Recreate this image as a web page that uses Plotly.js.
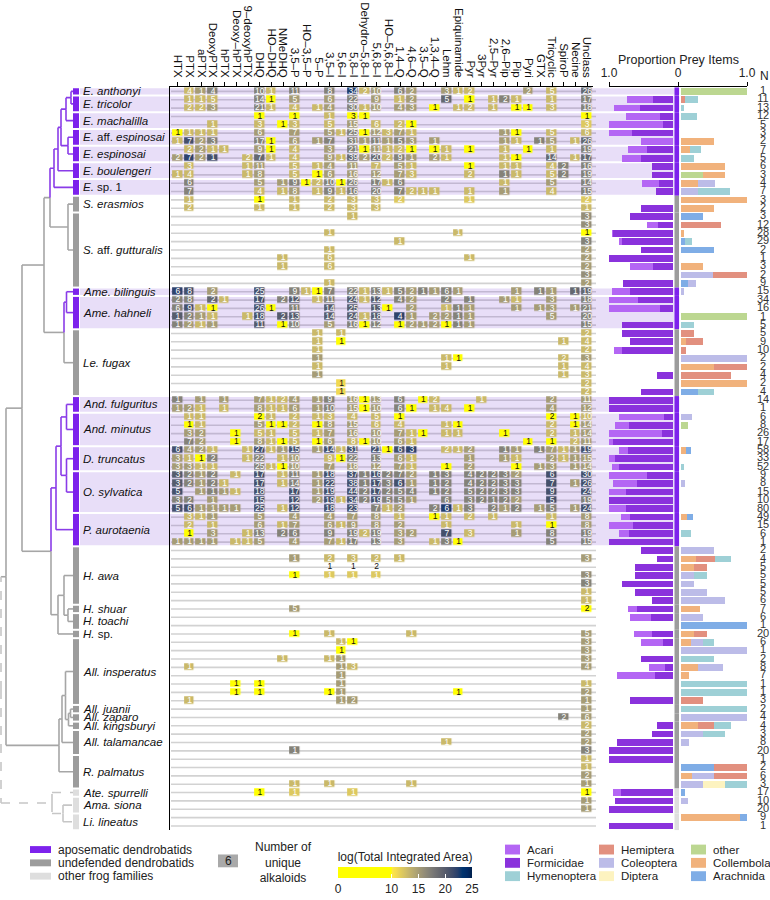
<!DOCTYPE html>
<html><head><meta charset="utf-8">
<script src="https://cdn.plot.ly/plotly-3.0.1.min.js"></script>
<style>body{margin:0;background:#fff}#chart{width:770px;height:900px}</style>
</head><body><div id="chart"></div>
<script>
// ---------------- DATA ----------------
const alkaloidClasses = ["HTX","PTX","aPTX","DeoxyPTX","hPTX","Deoxy–hPTX","9–deoxyhPTX","DHQ","HO–DHQ","NMeDHQ","3,5–P","HO–3,5–P","5–P","3,5–I","5,6–I","5,8–I","Dehydro–5,8–I","5,6,8–I","HO–5,6,8–I","1,4–Q","4,6–Q","3,5–Q","1,3,4–Q","Lehm","Epiquinamide","Pyr","3Pyr","2,5–Pyr","2,6–Pip","Pip","Pyri","GTX","Tricyclic","SpiroP","Necine","Unclass"];

const speciesNames = ["<i>E. anthonyi</i>","<i>E. tricolor</i>","<i>E. machalilla</i>","<i>E.</i> aff. <i>espinosai</i>","<i>E. espinosai</i>","<i>E. boulengeri</i>","<i>E.</i> sp. 1","<i>S. erasmios</i>","<i>S.</i> aff. <i>gutturalis</i>","<i>Ame. bilinguis</i>","<i>Ame. hahneli</i>","<i>Le. fugax</i>","<i>And. fulguritus</i>","<i>And. minutus</i>","<i>D. truncatus</i>","<i>O. sylvatica</i>","<i>P. aurotaenia</i>","<i>H. awa</i>","<i>H. shuar</i>","<i>H. toachi</i>","<i>H.</i> sp.","<i>All. insperatus</i>","<i>All. juanii</i>","<i>All. zaparo</i>","<i>All. kingsburyi</i>","<i>All. talamancae</i>","<i>R. palmatus</i>","<i>Ate. spurrelli</i>","<i>Ama. siona</i>","<i>Li. lineatus</i>"];
const speciesKeys = ["E. anthonyi","E. tricolor","E. machalilla","E. aff. espinosai","E. espinosai","E. boulengeri","E. sp. 1","S. erasmios","S. aff. gutturalis","Ame. bilinguis","Ame. hahneli","Le. fugax","And. fulguritus","And. minutus","D. truncatus","O. sylvatica","P. aurotaenia","H. awa","H. shuar","H. toachi","H. sp.","All. insperatus","All. juanii","All. zaparo","All. kingsburyi","All. talamancae","R. palmatus","Ate. spurrelli","Ama. siona","Li. lineatus"];
const speciesType = ["apo","apo","apo","apo","apo","apo","apo","und","und","apo","apo","und","apo","apo","apo","apo","apo","und","und","und","und","und","und","und","und","und","und","oth","oth","oth"];
const speciesRowCount = [1,2,2,2,2,2,2,2,9,1,4,8,2,4,3,5,4,7,1,2,1,8,1,1,1,3,4,1,2,2];

// number of prey items per individual (N column)
const preyN = [1,11,13,12,5,3,2,7,5,6, 3,4,7,3,2,3,12,28,29,2, 1,3,2,9,15,34,16,1,5,5, 9,10,2,2,4,2,4,14,1,6,
 8,26,17,58,33,52,9,8,15,10, 80,49,15,6,1,2,4,5,5,5, 5,6,7,6,1,20,6,1,2,8, 7,1,1,3,2,4,4,3,8,20, 1,2,6,3,17,10,20,9,1];

// alkaloid cells per individual: "class#:uniqueAlkaloids:logTotalArea"  ("x" = area not shown)
const alkaloidCells = [
"2:4:13 3:1:15 4:4:17 8:10:17 9:1:13 11:11:17 14:8:17 16:34:22.5 17:2:13 18:10:15 20:6:17 21:2:15 24:3:15 25:1:13 26:2:13 31:2:15 33:5:13 36:26:19",
"2:1:13 3:1:13 4:5:13 8:14:17 9:1:6 11:5:15 14:6:15 16:22:17 18:9:15 20:1:13 21:2:15 24:5:19 26:1:6 28:1:13 29:2:17 30:1:13 33:1:13 36:17:17",
"2:2:13 3:2:13 4:3:15 8:21:17 9:1:13 11:4:13 13:1:13 14:4:15 16:30:17 17:1:13 18:10:15 20:4:15 21:3:15 23:1:6 25:1:13 26:2:13 28:1:13 30:1:6 31:1:6 33:3:13 36:18:17",
"8:1:6 11:1:6 14:1:13 16:3:6 17:1:6 36:1:6",
"4:1:13 8:3:13 10:1:6 11:3:13 14:5:13 16:15:15 18:6:13 20:2:13 21:1:6 36:3:12",
"1:1:6 2:1:13 3:1:13 4:1:13 8:6:15 11:7:15 14:5:15 15:1:13 16:25:17 17:1:6 18:12:15 19:3:13 20:7:15 21:1:13 29:1:15 30:1:6 33:5:13 36:6:13",
"1:1:13 2:7:21 3:2:15 4:3:17 8:17:17 9:1:6 11:6:15 13:1:15 14:7:17 16:31:17 17:1:15 18:11:17 19:1:15 20:5:17 21:3:15 23:1:15 29:1:15 30:1:13 32:1:17 33:5:15 35:1:13 36:26:19",
"2:2:13 3:2:15 4:1:13 5:1:13 8:9:15 9:1:6 11:4:13 14:3:15 16:21:17 17:1:6 18:11:15 19:1:13 20:2:13 21:1:6 23:1:6 24:1:13 26:1:6 29:1:13 31:1:6 33:1:13 36:19:17",
"1:2:15 2:7:22 3:2:15 4:1:21 7:2:13 8:7:19 9:1:13 11:4:13 14:9:15 15:1:13 16:39:19 17:2:15 18:20:19 19:2:13 20:9:17 21:1:15 23:2:15 24:1:13 29:1:13 30:1:6 33:14:19 35:1:13 36:17:19",
"2:3:13 7:1:13 8:11:15 11:5:13 13:1:13 14:4:15 16:11:15 18:7:13 20:5:15 21:1:13 26:1:6 29:1:13 30:1:13 33:4:13 34:2:17 36:16:17",
"1:1:13 2:4:13 7:1:13 8:8:15 11:5:13 13:1:6 14:6:15 16:16:15 18:12:15 20:7:15 21:3:13 26:2:13 29:1:17 30:1:13 33:5:13 34:2:17 36:19:17",
"2:6:17 8:5:15 10:1:15 11:9:17 12:1:6 13:2:13 14:10:17 15:1:6 16:26:17 18:17:17 19:1:13 20:6:17 29:1:13 33:5:15 36:14:17",
"2:7:17 8:4:13 10:1:13 11:8:15 13:1:13 14:9:17 15:1:13 16:16:17 18:20:17 20:7:17 21:2:13 22:1:13 23:1:13 26:1:13 29:1:15 33:4:13 36:15:17",
"2:1:13 8:1:6 11:1:13 14:2:13 16:3:13 18:3:13 20:2:12 26:1:12 36:2:12",
"2:2:13 8:1:13 11:1:13 14:2:13 16:3:13 18:3:13 36:1:13",
"16:1:13 36:3:16",
"36:3:16",
"14:1:13 25:1:13 36:1:6",
"20:1:13 36:3:17",
"14:1:13 36:2:15",
"10:1:13 14:6:13 26:1:13 36:2:15",
"10:1:13 14:6:13 36:2:15",
"36:3:16",
"14:1:13 36:2:15",
"1:6:22 2:8:21 4:2:15 8:25:21 11:9:17 12:1:13 13:1:6 14:7:17 16:22:17 17:1:13 18:13:17 19:1:13 20:5:17 21:2:15 22:1:17 23:1:15 24:6:17 25:1:15 30:1:15 32:1:17 33:1:15 35:1:19 36:19:19",
"1:2:17 2:8:17 4:2:19 5:1:13 8:17:21 10:2:17 11:12:20 13:1:13 14:11:17 16:24:20 17:1:13 18:12:20 20:4:17 21:2:15 24:2:17 26:1:17 29:1:15 30:1:13 33:3:15 36:18:17",
"1:6:17 2:9:21 3:1:13 4:1:6 8:26:21 9:1:6 11:11:17 14:14:20 16:25:20 18:13:20 19:1:6 21:2:15 24:1:13 25:1:17 26:1:15 30:1:15 32:1:15 33:3:15 35:1:15 36:21:17",
"1:1:20 2:2:17 3:1:15 4:1:13 7:1:13 8:18:21 10:2:20 11:13:20 14:14:20 16:24:20 17:1:13 18:18:20 20:4:22 21:1:15 23:2:15 24:2:15 25:1:17 26:1:15 33:5:15 36:20:17",
"1:1:17 2:2:15 3:1:13 4:1:15 8:11:20 10:1:6 11:10:17 14:5:15 16:16:17 17:1:6 18:12:17 20:1:6 21:2:15 22:1:15 23:2:15 24:1:6 25:1:17 26:1:15 36:15:17",
"13:1:13 15:1:13 36:2:13",
"13:1:13 15:1:6 34:1:13 36:4:13",
"13:1:13 36:2:13",
"13:1:15 24:1:13 25:1:6 34:2:13 36:3:15",
"13:1:13 24:1:13 34:1:13 36:4:13",
"13:1:15 34:1:13 36:3:13",
"15:1:11 36:2:13",
"15:1:11 36:2:13",
"1:1:17 3:1:15 5:1:15 8:7:15 9:1:13 10:2:13 11:4:15 13:1:15 14:9:17 16:16:15 17:1:6 18:13:15 20:6:17 22:1:6 23:2:13 27:1:13 33:2:15 36:11:15",
"1:1:15 2:2:15 3:1:13 5:1:13 8:8:15 9:1:13 10:1:13 11:6:15 13:1:15 14:10:17 16:15:15 17:1:6 18:10:15 20:6:17 21:1:6 23:1:13 24:4:13 26:1:6 33:4:15 36:12:15",
"2:1:13 3:1:13 8:2:6 9:1:13 11:2:13 13:1:13 14:3:13 16:4:13 18:5:13 20:1:6 33:2:6 35:1:6 36:10:13",
"2:1:6 3:1:13 8:5:15 9:1:6 10:1:6 11:2:13 13:1:6 14:8:15 16:15:15 18:6:13 20:4:13 24:1:13 25:1:6 33:2:13 35:1:6 36:14:15",
"2:3:15 3:2:15 6:1:6 8:5:13 9:1:13 11:5:13 13:1:13 14:7:15 16:16:15 18:10:15 20:7:15 21:1:13 22:1:6 24:1:13 25:1:13 29:1:6 33:2:13 35:1:13 36:14:15",
"2:7:17 3:2:15 6:1:6 8:8:15 9:1:13 10:1:6 11:5:13 13:1:6 14:6:15 16:8:13 17:1:6 18:10:15 20:6:15 21:1:13 31:1:6 33:1:6 35:2:13 36:11:15",
"1:6:21 2:4:15 3:2:15 4:1:13 7:1:13 8:27:21 9:1:13 10:1:15 11:15:21 13:1:15 14:14:21 15:1:13 16:31:21 18:21:21 19:1:6 20:6:21 21:3:22 24:2:13 25:1:13 26:2:15 29:1:17 30:1:15 32:1:17 33:7:15 34:1:13 35:1:15 36:19:21",
"1:3:15 2:1:13 3:1:6 4:2:17 7:1:13 8:22:17 10:1:13 11:10:15 14:9:13 15:1:6 16:22:17 18:13:17 20:6:15 21:1:13 26:1:15 29:1:15 30:1:13 33:2:15 34:1:13 35:1:15 36:15:15",
"1:3:15 2:3:15 3:1:13 4:1:13 8:25:17 9:1:13 10:1:6 11:10:15 14:7:15 16:18:15 18:12:15 20:7:15 21:1:13 24:1:6 26:2:15 30:1:6 32:1:15 33:3:15 35:1:15 36:14:15",
"1:3:20 2:2:17 3:1:15 4:2:17 6:1:13 8:17:21 10:1:13 11:11:17 13:1:15 14:18:21 16:37:21 17:1:17 18:16:21 19:2:17 20:7:17 21:2:15 23:1:17 24:3:17 26:4:17 27:2:17 28:2:17 29:3:17 30:2:15 33:6:21 36:30:21",
"1:3:20 2:2:17 3:1:15 4:2:17 5:1:13 8:17:21 10:1:13 11:14:17 13:1:15 14:22:21 16:38:21 17:1:17 18:17:21 19:3:17 20:6:21 21:1:15 23:1:17 24:2:17 26:4:17 27:2:17 28:2:17 29:3:17 30:3:17 33:7:21 35:1:15 36:26:21",
"1:5:21 3:1:15 4:1:17 5:1:15 6:1:13 8:18:21 11:17:21 13:1:15 14:19:21 16:44:21 17:2:17 18:17:21 19:2:17 20:5:17 21:4:17 23:1:17 24:2:17 26:5:17 27:2:17 28:2:17 29:3:17 30:3:17 33:9:21 36:24:21",
"1:3:17 2:2:17 4:1:15 8:15:21 11:12:21 13:2:15 14:19:21 15:1:13 16:34:21 17:2:17 18:19:21 19:5:17 20:5:17 21:1:15 24:6:17 26:3:17 27:2:17 28:1:17 29:2:17 30:2:15 33:5:21 36:19:17",
"1:5:21 2:6:21 3:1:15 4:1:15 5:1:15 6:1:15 8:25:21 10:1:13 11:12:21 14:18:21 16:23:21 18:7:17 19:1:13 20:2:15 23:2:17 24:6:22.5 25:1:13 26:3:17 28:2:17 29:1:15 30:2:17 32:1:15 33:5:17 35:1:15 36:24:21",
"2:3:13 3:1:13 4:1:15 8:5:15 11:4:15 14:4:15 16:7:15 18:8:15 20:1:13 23:1:6 24:1:13 26:2:13 28:1:13 33:1:13 36:8:15",
"2:2:13 4:1:13 8:6:15 10:1:13 11:7:15 14:6:15 15:1:13 16:9:15 18:8:15 20:2:15 24:1:13 30:1:13 33:1:6 36:8:15",
"2:1:6 4:3:15 7:1:13 8:13:17 10:2:17 11:6:17 14:9:17 16:19:17 17:2:13 18:19:17 20:3:15 21:2:15 24:7:21 26:3:13 30:1:15 33:8:17 36:19:17",
"1:1:15 2:1:15 3:1:15 4:1:15 6:1:13 7:1:13 8:5:15 11:4:15 14:7:15 15:1:13 16:17:17 18:13:17 20:3:15 23:1:13 24:3:17 25:1:6 33:5:17 36:15:17",
"",
"11:1:15 14:2:13 16:3:13 18:2:13 20:1:13 36:3:15",
"14:1:x 16:1:x 18:2:x",
"11:1:6 14:1:12 16:1:12 18:1:12 36:3:16",
"36:3:17",
"36:1:13",
"36:1:13",
"11:5:15 36:2:6",
"",
"",
"11:1:6 14:1:13 21:1:13 36:5:15",
"15:1:13 16:1:6 36:3:15",
"15:1:6 36:3:15",
"10:1:13 14:1:13 15:1:15 36:3:15",
"2:1:13 15:1:15 16:3:13 36:4:15",
"15:1:15",
"6:1:6 8:1:6 15:1:15 36:1:13",
"6:1:6 8:1:6 14:1:6 15:1:15 25:1:6 36:2:15",
"2:1:13 15:1:15 16:2:15 36:1:15",
"36:1:15",
"34:2:17 36:6:15",
"36:2:13",
"36:2:15",
"24:1:13 36:2:15",
"11:1:17 36:3:17",
"36:1:13",
"36:1:13",
"36:2:15",
"11:1:13 14:1:13 21:1:13 36:1:15",
"8:1:6 11:1:12 16:1:12 36:1:6",
"36:1:15",
"36:1:15",
"",
""
];

// diet proportions per individual: F=Formicidae A=Acari Ot=other Cl=Collembola Ar=Arachnida Co=Coleoptera Di=Diptera He=Hemiptera Hy=Hymenoptera
const dietRows = [
"Ot1","F.32 A.40 He.06 Hy.20","F.52 A.40 Hy.05","F.21 A.53 Hy.24","F.15 A.85","F.64 A.36","A.50 Cl.50","F.40 A.30 Cl.13 Hy.17","F.50 A.30 Hy.20","F.33 Cl.67",
"F.33 Ot.33 Cl.34","F.22 A.27 Cl.25 Co.26","F.26 Co.25 Hy.49","Cl1","F.5 Cl.5","F.67 Ar.33","F.23 A.17 He.60","F.93 A.03 Cl.04","F.80 A.04 Ar.06 Hy.10","F.5 Ar.5",
"F1","F.32 A.35 Cl.33","Co.48 He.52","F.78 Ar.11 Co.11","F.67 A.28 Co.05","F.55 A.45","F.2 A.8","Ot1","F.8 Hy.2","F.8 He.2",
"F.67 Cl.08 He.25","F.8 A.12 He.08","Co1","Cl.5 He.5","F.25 He.75","Cl1","F.5 Ar.25 Hy.25","F1","F1","F.14 A.7 Co.16",
"F.68 A.22 Ot.1","F.17 A.83","F.94 A.06","F.7 A.15 Cl.07 Ar.08","F.91 A.09","F.85 A.11 Hy.04","F.41 A.59","F.56 A.38 Co.06","F.73 A.27","F1",
"F.73 A.27","F.67 A.15 Cl.09 Ar.09","F.62 A.38","F.68 A.17 Hy.15","F1","F.5 Co.5","F.25 Cl.22 He.3 Hy.23","F.6 Cl.2 He.2","F.6 Co.2 Hy.2","F.8 Co.2",
"F.6 Co.4","F.33 Co.67","F.57 A.14 Cl.29","F.34 A.33 Co.33","Ar1","F.33 A.28 Cl.19 He.2","F.15 A.35 Cl.15 Co.18 Hy.17","Co1","F.5 Hy.5","F.12 A.25 Cl.25 Co.38",
"F.28 A.6 Cl.12","Hy1","Hy1","F.67 He.33","Hy1","Co1","F.25 Cl.25 He.25 Hy.25","F.33 Co.33 Hy.34","F.875 Co.125","F1",
"F1","Ar.5 He.5","Cl.17 Co.33 He.5","Co.33 Di.33 Hy.34","F.82 A.12 Ar.06","F.9 Co.1","F1","Cl.89 Ar.11","F1"
];

const dietLeftCodes = ["F","A"];                       // stacked leftwards from 0
const dietRightCodes = ["Ot","Cl","Ar","Co","Di","He","Hy"]; // stacked rightwards from 0
const dietNames = {F:"Formicidae",A:"Acari",Ot:"other",Cl:"Collembola",Ar:"Arachnida",Co:"Coleoptera",Di:"Diptera",He:"Hemiptera",Hy:"Hymenoptera"};
const dietColors = {F:"#8a32dc",A:"#b466f4",Ot:"#bcd791",Cl:"#f1b27c",Ar:"#7fade6",Co:"#bcbce8",Di:"#fdf3c0",He:"#e2907f",Hy:"#9ed0d6"};
const dietLegendColumns = [["A","F","Hy"],["He","Co","Di"],["Ot","Cl","Ar"]];

const groupColors = {apo:"#7d22ec", und:"#9c9c9c", oth:"#dedede"};
const treeColors = {apo:"#8a3ce8", und:"#a6a6a6", oth:"#c6c6c6"};
const groupLegend = [["apo","aposematic dendrobatids"],["und","undefended dendrobatids"],["oth","other frog families"]];

// cladogram: [node, childA, childB, node depth (px from left)]
const treeNodes = [
 ["n1","E. anthonyi","E. tricolor",71],
 ["n2","n1","E. machalilla",66],
 ["n3","E. aff. espinosai","E. espinosai",68],
 ["n4","n2","n3",61],
 ["n5","n4","E. boulengeri",58],
 ["n6","n5","E. sp. 1",54],
 ["n7","S. erasmios","S. aff. gutturalis",68],
 ["n8","n6","n7",50],
 ["n9","Ame. bilinguis","Ame. hahneli",66.5],
 ["n10","n9","Le. fugax",64],
 ["n11","n8","n10",44],
 ["n12","And. fulguritus","And. minutus",66.5],
 ["n13","D. truncatus","O. sylvatica",66.5],
 ["n14","n12","n13",61],
 ["n15","n14","P. aurotaenia",56],
 ["n16","H. shuar","H. toachi",68],
 ["n17","H. awa","n16",64],
 ["n18","n17","H. sp.",58],
 ["n19","n15","n18",51],
 ["n20","n11","n19",22],
 ["n21","All. juanii","All. zaparo",70.5],
 ["n22","n21","All. kingsburyi",68.5],
 ["n23","All. insperatus","n22",65.5],
 ["n24","n23","All. talamancae",62],
 ["n25","n24","R. palmatus",59],
 ["n26","n20","n25",6],
 ["n27","Ama. siona","Li. lineatus",63],
 ["n28","Ate. spurrelli","n27",52],
 ["n29","n26","n28",1]
];

// ---------------- BUILD ----------------
const W = 770, H = 900;
const px = x => x / W, py = y => 1 - y / H;
const FONT = "'Liberation Sans',Arial,sans-serif";
const nRows = preyN.length, nCols = alkaloidClasses.length;
const rowIdx = Array.from({length:nRows}, (_,i)=>i+1);

const rowStart = []; let acc = 1;
speciesRowCount.forEach(c => { rowStart.push(acc); acc += c; });
const spCenter = speciesRowCount.map((c,i) => rowStart[i] + (c-1)/2);
const rowType = [];
speciesRowCount.forEach((c,i) => { for (let k=0;k<c;k++) rowType.push(speciesType[i]); });

const z = [], tX = [], tY = [], tT = [], tC = [];
alkaloidCells.forEach((s,i) => {
  const row = new Array(nCols).fill(null);
  s.split(/\s+/).filter(Boolean).forEach(tok => {
    const [c,n,a] = tok.split(":");
    if (a !== "x") row[+c-1] = +a;
    tX.push(+c); tY.push(i+1); tT.push(n);
    tC.push(a === "x" || +a <= 11.5 ? "#111" : "#fff");
  });
  z.push(row);
});

const cividis = [[0,'rgb(0,32,76)'],[0.058824,'rgb(0,42,102)'],[0.117647,'rgb(0,52,110)'],[0.176471,'rgb(39,63,108)'],[0.235294,'rgb(60,74,107)'],[0.294118,'rgb(76,85,107)'],[0.352941,'rgb(91,95,109)'],[0.411765,'rgb(104,106,112)'],[0.470588,'rgb(117,117,117)'],[0.529412,'rgb(131,129,120)'],[0.588235,'rgb(146,140,120)'],[0.647059,'rgb(161,152,118)'],[0.705882,'rgb(176,165,114)'],[0.764706,'rgb(192,177,109)'],[0.823529,'rgb(209,191,102)'],[0.882353,'rgb(225,204,92)'],[0.941176,'rgb(243,219,79)'],[1,'rgb(255,233,69)']];
const cs = [[0,'#ffff00'],[0.399,'#ffff00']];
cividis.slice().reverse().forEach(([p,c]) => cs.push([0.4 + 0.6*(1-p), c]));

const diet = {};
Object.keys(dietNames).forEach(k => diet[k] = new Array(nRows).fill(0));
dietRows.forEach((s,i) => s.split(/\s+/).filter(Boolean).forEach(tok => {
  const m = tok.match(/^([A-Za-z]+)([\d.]+)$/); diet[m[1]][i] = +m[2];
}));

const traces = [];
traces.push({type:'heatmap', x: Array.from({length:nCols},(_,i)=>i+1), y: rowIdx, z: z,
  xaxis:'x', yaxis:'y', zmin:0, zmax:25, colorscale: cs, xgap:1.6, ygap:1.4, hoverongaps:false,
  colorbar:{orientation:'h', x:px(338), xanchor:'left', y:py(865), yanchor:'top', len:134, lenmode:'pixels',
    thickness:11, thicknessmode:'pixels', outlinewidth:0, xpad:0, ypad:0,
    tickvals:[0,10,15,20,25], ticks:'inside', ticklen:4, tickcolor:'#ffffff', tickwidth:1,
    tickfont:{family:FONT, size:12, color:'#222'},
    title:{text:'log(Total Integrated Area)', side:'top', font:{family:FONT, size:12, color:'#222'}}}});
traces.push({type:'scatter', mode:'text', x:tX, y:tY, text:tT, xaxis:'x', yaxis:'y',
  textfont:{family:FONT, size:8.5, color:tC}, hoverinfo:'skip', showlegend:false, cliponaxis:false});

dietLeftCodes.forEach(k => traces.push({type:'bar', orientation:'h', y:rowIdx, x:diet[k], xaxis:'x2', yaxis:'y',
  name:dietNames[k], marker:{color:dietColors[k], line:{width:0}}, width:0.8, showlegend:false}));
dietRightCodes.forEach(k => traces.push({type:'bar', orientation:'h', y:rowIdx, x:diet[k], xaxis:'x3', yaxis:'y',
  name:dietNames[k], marker:{color:dietColors[k], line:{width:0}}, width:0.8, showlegend:false}));

// N column
traces.push({type:'scatter', mode:'text', x:rowIdx.map(()=>0.5), y:rowIdx, text:preyN.map(String),
  xaxis:'x6', yaxis:'y', textfont:{family:FONT, size:11, color:'#333'}, cliponaxis:false, hoverinfo:'skip', showlegend:false});

// top axis for proportions
traces.push({type:'scatter', mode:'markers', x:[-1,1], y:[1,1], xaxis:'x5', yaxis:'y', marker:{opacity:0}, hoverinfo:'skip', showlegend:false});

// tree
const nodeY = {}, nodeX = {}, nodeT = {};
speciesKeys.forEach((k,i) => { nodeY[k] = spCenter[i]; nodeX[k] = 73; nodeT[k] = speciesType[i]; });
const seg = {apo:{x:[],y:[]}, und:{x:[],y:[]}, oth:{x:[],y:[]}};
const addSeg = (t,x0,y0,x1,y1) => { seg[t].x.push(x0,x1,null); seg[t].y.push(y0,y1,null); };
treeNodes.forEach(([id,a,b,x]) => {
  nodeX[id] = x; nodeY[id] = (nodeY[a] + nodeY[b]) / 2;
  const ta = nodeT[a], tb = nodeT[b];
  const mixedOth = (ta !== tb) && (ta === 'oth' || tb === 'oth');
  nodeT[id] = (ta === tb) ? ta : (mixedOth ? 'oth' : 'und');
  addSeg(mixedOth ? 'oth' : ta, x, nodeY[id], x, nodeY[a]);
  addSeg(mixedOth ? 'oth' : tb, x, nodeY[id], x, nodeY[b]);
  addSeg(ta, x, nodeY[a], nodeX[a], nodeY[a]);
  addSeg(tb, x, nodeY[b], nodeX[b], nodeY[b]);
});
['und','apo','oth'].forEach(t => traces.push({type:'scatter', mode:'lines', x:seg[t].x, y:seg[t].y, xaxis:'x4', yaxis:'y',
  line:{color:treeColors[t], width:1.6, dash: t==='oth' ? 'dash' : 'solid'}, hoverinfo:'skip', showlegend:false, cliponaxis:false}));

// shapes
const shapes = [], annotations = [];
const gap = 0.12;
speciesKeys.forEach((k,i) => {
  const y0 = rowStart[i] - 0.5 + gap, y1 = rowStart[i] + speciesRowCount[i] - 0.5 - gap;
  if (speciesType[i] === 'apo')
    shapes.push({type:'rect', layer:'below', xref:'paper', yref:'y', x0:px(80), x1:px(679.5), y0, y1, fillcolor:'#e8def8', line:{width:0}});
  shapes.push({type:'rect', layer:'below', xref:'paper', yref:'y', x0:px(73), x1:px(79), y0, y1, fillcolor:groupColors[speciesType[i]], line:{width:0}});
  shapes.push({type:'rect', layer:'above', xref:'paper', yref:'y', x0:px(674.5), x1:px(679), y0: y0 - gap, y1: y1 + gap, fillcolor:groupColors[speciesType[i]], line:{width:0}});
  annotations.push({xref:'paper', yref:'y', x:px(81), y:spCenter[i], xanchor:'left', yanchor:'middle', text:speciesNames[i], showarrow:false,
    font:{family:FONT, size:11.5, color:'#111'}});
});
rowIdx.forEach(r => shapes.push({type:'line', layer:'below', xref:'paper', yref:'y', x0:px(171), x1:px(596), y0:r, y1:r,
  line:{color: rowType[r-1]==='apo' ? 'rgba(190,180,205,0.9)' : 'rgba(205,205,205,0.9)', width:1.6}}));

// legends
const legRows = [862, 875.5, 889];
groupLegend.forEach(([t,label],i) => {
  shapes.push({type:'rect', xref:'paper', yref:'paper', x0:px(30), x1:px(51), y0:py(legRows[i]-3.5), y1:py(legRows[i]+3.5), fillcolor:groupColors[t], line:{width:0}});
  annotations.push({xref:'paper', yref:'paper', x:px(56), y:py(legRows[i]), xanchor:'left', yanchor:'middle', text:label, showarrow:false, font:{family:FONT, size:12, color:'#222'}});
});
shapes.push({type:'rect', xref:'paper', yref:'paper', x0:px(218), x1:px(238), y0:py(880), y1:py(867), fillcolor:'#a9a9a9', line:{width:0}});
annotations.push({xref:'paper', yref:'paper', x:px(228), y:py(873.5), xanchor:'center', yanchor:'middle', text:'6', showarrow:false, font:{family:FONT, size:12, color:'#222'}});
annotations.push({xref:'paper', yref:'paper', x:px(283), y:py(875.5), xanchor:'center', yanchor:'middle', text:'Number of<br>unique<br>alkaloids', showarrow:false, align:'center', font:{family:FONT, size:12, color:'#222'}});
const legColX = [505, 599, 691];
dietLegendColumns.forEach((col,ci) => col.forEach((k,ri) => {
  shapes.push({type:'rect', xref:'paper', yref:'paper', x0:px(legColX[ci]), x1:px(legColX[ci]+15), y0:py(legRows[ri]-5), y1:py(legRows[ri]+5), fillcolor:dietColors[k], line:{width:0}});
  annotations.push({xref:'paper', yref:'paper', x:px(legColX[ci]+20), y:py(legRows[ri]), xanchor:'left', yanchor:'middle', text:dietNames[k], showarrow:false, font:{family:FONT, size:11.5, color:'#222'}});
}));
annotations.push({xref:'paper', yref:'paper', x:px(678), y:py(61), xanchor:'center', yanchor:'middle', text:'Proportion Prey Items', showarrow:false, font:{family:FONT, size:12.5, color:'#222'}});
annotations.push({xref:'paper', yref:'paper', x:px(764), y:py(77), xanchor:'center', yanchor:'middle', text:'N', showarrow:false, font:{family:FONT, size:12, color:'#222'}});

const yTop = 88.5, yBot = 842.3;
const layout = {
  width:W, height:H, margin:{l:0,r:0,t:0,b:0}, paper_bgcolor:'#fff', plot_bgcolor:'rgba(0,0,0,0)',
  showlegend:false, barmode:'stack', bargap:0,
  font:{family:FONT, color:'#222'},
  xaxis:{domain:[px(170), px(593)], range:[0.32, 36.5], side:'top', anchor:'y', tickmode:'array',
    tickvals:alkaloidClasses.map((_,i)=>i+1), ticktext:alkaloidClasses, tickangle:90,
    ticks:'outside', ticklen:4, tickcolor:'#000', showline:true, linecolor:'#000', linewidth:1.5,
    showgrid:false, zeroline:false, tickfont:{family:FONT, size:11.5, color:'#111'}, fixedrange:true},
  yaxis:{domain:[py(yBot), py(yTop)], range:[nRows+0.5, 0.5], anchor:'x', showline:true, linecolor:'#000', linewidth:1.5,
    showticklabels:false, ticks:'', showgrid:false, zeroline:false, fixedrange:true},
  xaxis2:{domain:[px(609), px(673)], range:[1,0], anchor:'y', visible:false, fixedrange:true},
  xaxis3:{domain:[px(681), px(747)], range:[0,1], anchor:'y', visible:false, fixedrange:true},
  xaxis4:{domain:[0, px(80)], range:[0,80], anchor:'y', visible:false, fixedrange:true},
  xaxis5:{domain:[px(609), px(747)], range:[-1,1], anchor:'y', side:'top', tickmode:'array', tickvals:[-1,0,1], ticktext:['1.0','0','1.0'],
    ticks:'outside', ticklen:4, tickcolor:'#000', showline:true, linecolor:'#000', linewidth:1.5, showgrid:false, zeroline:false,
    tickfont:{family:FONT, size:12, color:'#222'}, fixedrange:true},
  xaxis6:{domain:[px(756), px(772)], range:[0,1], anchor:'y', visible:false, fixedrange:true},
  shapes, annotations
};
Plotly.newPlot('chart', traces, layout, {staticPlot:true});
</script>
</body></html>
